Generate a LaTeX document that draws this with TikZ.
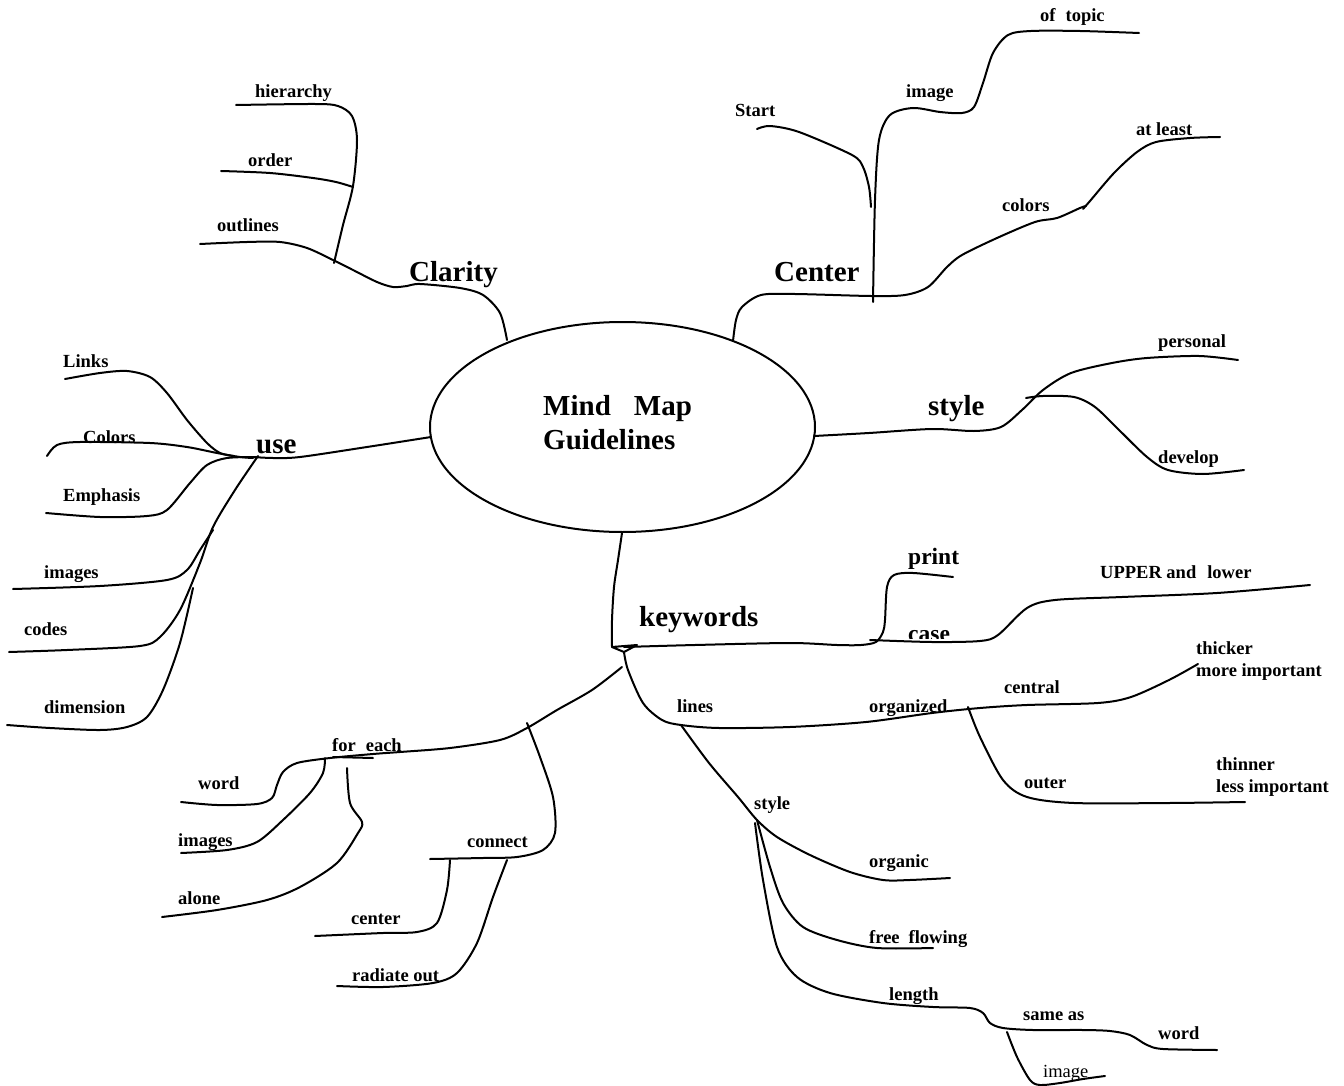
\documentclass[tikz,border=0pt]{standalone}
\usepackage{fontspec}
\setmainfont{Liberation Serif}
\usetikzlibrary{shapes.geometric}
\tikzset{
  branch/.style={line width=2pt, line cap=round, line join=round},
  lbl/.style={font=\fontsize{18.5}{22}\selectfont\bfseries, inner sep=0pt, anchor=base west},
  big/.style={lbl, font=\fontsize{29}{34}\selectfont\bfseries},
  mid/.style={lbl, font=\fontsize{23.5}{28}\selectfont\bfseries},
  plain/.style={lbl, font=\fontsize{18.5}{22}\selectfont},
}
\begin{document}
\begin{tikzpicture}[x=1pt, y=-1pt]
\useasboundingbox (0,0) rectangle (1344,1086);

% central topic
\node[ellipse, draw, line width=2pt, minimum width=385pt, minimum height=210pt, inner sep=0pt] (mm) at (622.5,427) {};
\node[big] (title1) at (543,415) {Mind\hspace{23pt}Map};
\node[big] (title2) at (543,449) {Guidelines};

% ---------- labels ----------
\node[big] (tClarity) at (409,281) {Clarity};
\node[lbl] (tHier) at (255,98) {hierarchy};
\node[lbl] (tOrder) at (248,167) {order};
\node[lbl] (tOutl) at (217,232) {outlines};

\node[big] (tCenter) at (774,281) {Center};
\node[lbl] (tStart) at (735,117) {Start};
\node[lbl] (tImage) at (906,98) {image};
\node[lbl] (tTopic) at (1040,22) {of\hspace{10pt}topic};
\node[lbl] (tColors) at (1002,212) {colors};
\node[lbl] (tLeast) at (1136,136) {at least};

\node[big] (tStyle) at (928,415) {style};
\node[lbl] (tPers) at (1158,347) {personal};
\node[lbl] (tDev) at (1158,463) {develop};

\node[big] (tUse) at (256,453) {use};
\node[lbl] (tLinks) at (63,367) {Links};
\node[lbl] (tCol) at (83,443) {Colors};
\node[lbl] (tEmph) at (63,501) {Emphasis};
\node[lbl] (tImgs) at (44,578) {images};
\node[lbl] (tCodes) at (24,635) {codes};
\node[lbl] (tDim) at (44,713) {dimension};

\node[big] (tKey) at (639,626) {keywords};
\node[mid] (tPrint) at (908,564) {print};
% the word "case" sits with its lower edge cut off by the branch
\begin{scope}
  \clip (900,600) rectangle (960,638.5);
  \node[mid] (tCase) at (908,641) {case};
\end{scope}
\node[lbl] (tUpper) at (1100,578) {UPPER and\hspace{11pt}lower};
\node[lbl] (tLines) at (677,712) {lines};
\node[lbl] (tOrg) at (869,712) {organized};
\node[lbl] (tCentral) at (1004,693) {central};
\node[lbl] (tThick) at (1196,654) {thicker};
\node[lbl] (tMore) at (1196,676) {more important};
\node[lbl] (tOuter) at (1024,788) {outer};
\node[lbl] (tThin) at (1216,770) {thinner};
\node[lbl] (tLess) at (1216,792) {less important};

\node[lbl] (tLStyle) at (754,809) {style};
\node[lbl] (tOrganic) at (869,867) {organic};
\node[lbl] (tFree) at (869,943) {free\hspace{9pt}flowing};
\node[lbl] (tLength) at (889,1000) {length};
\node[lbl] (tSame) at (1023,1020) {same as};
\node[lbl] (tWord2) at (1158,1039) {word};
\node[plain] (tImage2) at (1043,1077) {image};

\node[lbl] (tFor) at (332,751) {for\hspace{10pt}each};
\node[lbl] (tWord) at (198,789) {word};
\node[lbl] (tImages) at (178,846) {images};
\node[lbl] (tAlone) at (178,904) {alone};
\node[lbl] (tConnect) at (467,847) {connect};
\node[lbl] (tCenter2) at (351,924) {center};
\node[lbl] (tRadiate) at (352,981) {radiate out};

% ---------- junctions ----------
\coordinate (jClar) at (507,340);
\coordinate (jCen) at (733,341);
\coordinate (jSty) at (814,436);
\coordinate (jUse) at (431,437);
\coordinate (jKey) at (622,533);
\coordinate (jHook) at (612,647);
\coordinate (jStyle2) at (757,820);
\coordinate (jColors) at (1086,206);

% ---------- Clarity ----------
\draw[branch] plot[smooth] coordinates {(jClar) (500,313) (483,295) (460,288) (420,284) (407,286) (393,287) (377,282) (353,270) (333,260) (307,248) (280,242) (247,242) (200,244)};
\draw[branch] plot[smooth] coordinates {(334,263) (343,225) (353,186) (357,140) (352,116) (338,106) (315,104) (236,105)};
\draw[branch] plot[smooth] coordinates {(221,171) (270,173) (313,178) (336,182) (353,187)};

% ---------- Center ----------
\draw[branch] plot[smooth] coordinates {(jCen) (736,320) (742,307) (761,295) (795,294) (871,296) (905,295) (928,287) (947,267) (962,255) (997,238) (1035,222) (1057,218) (1080,208) (jColors)};
\draw[branch] plot[smooth] coordinates {(1083,209) (1090,201) (1114,173) (1137,152) (1156,142) (1190,138) (1220,137)};
\draw[branch] plot[smooth] coordinates {(873,302) (875,200) (879,140) (890,115) (913,108) (940,112) (962,113) (974,107) (983,83) (993,53) (1008,35) (1031,31) (1080,31) (1139,33)};
\draw[branch] plot[smooth] coordinates {(757,129) (770,126) (799,132) (852,155) (863,167) (869,187) (871,207)};

% ---------- style ----------
\draw[branch] plot[smooth] coordinates {(jSty) (869,433) (932,429) (974,431) (1001,427) (1022,410) (1043,390) (1071,373) (1112,363) (1147,358) (1199,356) (1238,360)};
\draw[branch] plot[smooth] coordinates {(1026,398) (1043,396) (1074,397) (1095,407) (1119,430) (1147,457) (1168,470) (1203,474) (1244,470)};

% ---------- use ----------
\draw[branch] plot[smooth] coordinates {(jUse) (367,447) (300,457) (273,458) (253,457)};
\draw[branch] plot[smooth] coordinates {(65,379) (100,373) (127,371) (150,377) (167,393) (187,420) (207,443) (220,453) (233,456)};
\draw[branch] plot[smooth] coordinates {(47,456) (57,445) (80,442) (150,443) (187,447) (217,453) (240,457) (253,458)};
\draw[branch] plot[smooth] coordinates {(46,513) (100,517) (147,516) (167,510) (190,483) (207,465) (227,458) (257,457)};
\draw[branch] plot[smooth] coordinates {(258,456) (235,490) (213,527) (200,563) (180,610) (160,637) (140,646) (67,650) (9,652)};
\draw[branch] plot[smooth] coordinates {(213,530) (200,550) (187,570) (167,580) (100,586) (13,589)};
\draw[branch] plot[smooth] coordinates {(193,588) (180,643) (163,690) (147,717) (127,727) (100,730) (50,728) (7,725)};

% ---------- keywords ----------
\draw[branch] plot[smooth] coordinates {(jKey) (618,560) (614,587) (612,620) (jHook)};
\draw[branch] (jHook) -- (637,645) -- (624,652) -- cycle;
\draw[branch] plot[smooth] coordinates {(624,647) (695,645) (790,643) (837,645) (861,645) (876,642) (883,632) (885,620) (887,587) (894,575) (913,573) (953,577)};
\draw[branch] plot[smooth] coordinates {(870,640) (932,642) (980,641) (998,635) (1027,608) (1055,600) (1122,597) (1217,593) (1310,585)};
\draw[branch] plot[smooth] coordinates {(624,652) (628,670) (643,703) (662,720) (681,725) (719,728) (790,727) (866,722) (932,713) (980,708) (1027,705) (1098,703) (1131,697) (1169,680) (1198,664)};
\draw[branch] plot[smooth] coordinates {(968,707) (980,737) (1003,780) (1027,797) (1074,803) (1169,803) (1245,802)};

% lines: style
\draw[branch] plot[smooth] coordinates {(681,725) (709,763) (738,797) (jStyle2) (777,837) (810,855) (850,872) (883,880) (910,880) (950,878)};
\draw[branch] plot[smooth] coordinates {(jStyle2) (770,867) (783,903) (803,927) (837,940) (877,948) (933,948)};
\draw[branch] plot[smooth] coordinates {(755,823) (763,880) (777,947) (797,977) (830,993) (883,1003) (933,1007) (970,1008) (983,1013) (990,1023) (1003,1028) (1033,1030) (1083,1030) (1110,1031) (1130,1035) (1147,1045) (1163,1049) (1217,1050)};
\draw[branch] plot[smooth] coordinates {(1007,1032) (1017,1057) (1030,1080) (1040,1085) (1060,1083) (1083,1079) (1105,1076)};

% for each / connect
\draw[branch] plot[smooth] coordinates {(622,667) (592,690) (557,710) (527,728) (500,740) (450,748) (400,752) (373,754) (330,758) (297,763) (283,772) (277,785) (272,798) (257,804) (217,805) (181,802)};
\draw[branch] (333,757) -- (373,758);
\draw[branch] plot[smooth] coordinates {(325,758) (323,773) (310,793) (283,820) (257,842) (227,850) (181,853)};
\draw[branch] plot[smooth] coordinates {(347,768) (350,803) (362,822) (358,833) (337,863) (300,887) (267,900) (217,910) (162,917)};
\draw[branch] plot[smooth] coordinates {(527,723) (540,757) (553,797) (555,833) (543,850) (517,857) (483,858) (430,859)};
\draw[branch] plot[smooth] coordinates {(450,860) (447,890) (437,923) (417,932) (383,933) (315,936)};
\draw[branch] plot[smooth] coordinates {(507,860) (493,897) (477,943) (457,973) (433,983) (383,987) (337,986)};
\end{tikzpicture}
\end{document}
